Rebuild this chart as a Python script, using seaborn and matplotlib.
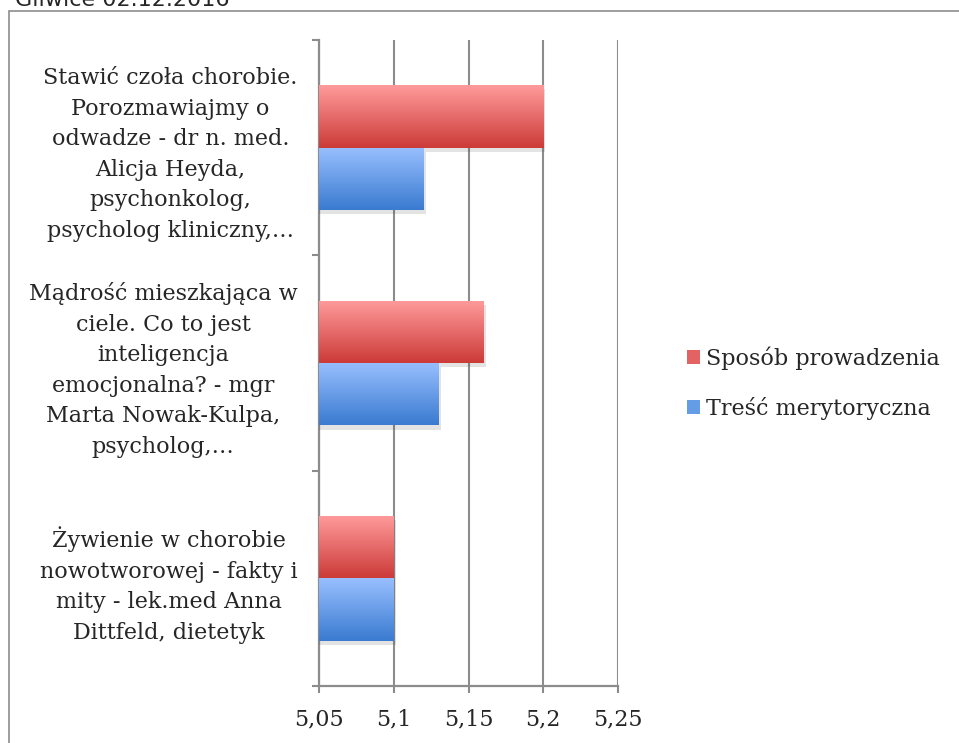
import numpy as np
import pandas as pd
import seaborn as sns
import matplotlib.pyplot as plt
import matplotlib.patheffects as pe
from matplotlib.colors import to_rgb
from matplotlib.patches import Patch, Rectangle

# chart data
categories = [
    "Stawić czoła chorobie.\nPorozmawiajmy o\nodwadze - dr n. med.\nAlicja Heyda,\npsychonkolog,\npsycholog kliniczny,…",
    "Mądrość mieszkająca w\nciele. Co to jest\ninteligencja\nemocjonalna? - mgr\nMarta Nowak-Kulpa,\npsycholog,…",
    "Żywienie w chorobie\nnowotworowej - fakty i\nmity - lek.med Anna\nDittfeld, dietetyk",
]
series = ["Sposób prowadzenia", "Treść merytoryczna"]
sposob = [5.20, 5.16, 5.10]
tresc = [5.12, 5.13, 5.10]
x_ticks = [5.05, 5.10, 5.15, 5.20, 5.25]
x_tick_labels = ["5,05", "5,1", "5,15", "5,2", "5,25"]

df = pd.DataFrame({
    "temat": categories * 2,
    "seria": [series[0]] * 3 + [series[1]] * 3,
    "ocena": sposob + tresc,
})

# gradient colours (top -> bottom) per series
grad = {
    series[0]: ("#ff9b9b", "#cc3b38"),
    series[1]: ("#98bfff", "#3a7bd0"),
}
mid = {series[0]: "#e36363", series[1]: "#659ce6"}

sns.set_style("white")
plt.rcParams["font.family"] = ["DejaVu Serif"]

fig = plt.figure(figsize=(9.59, 7.43), dpi=100)
ax = fig.add_axes([319 / 959, 57 / 743, 299 / 959, 646 / 743])

sns.barplot(data=df, y="temat", x="ocena", hue="seria", hue_order=series,
            order=categories, orient="h", width=0.58, palette=mid,
            legend=False, ax=ax, zorder=3)

x0, x1 = x_ticks[0], x_ticks[-1]
ax.set_xlim(x0, x1)
ax.set_ylim(2.5, -0.5)

# gradient fill + soft shadow for each bar
for container, name in zip(ax.containers, series):
    top, bot = grad[name]
    c_top = np.array(to_rgb(top))
    c_bot = np.array(to_rgb(bot))
    t = np.linspace(0, 1, 64)[:, None]
    img = (c_top * (1 - t) + c_bot * t)[:, None, :]
    for bar in container:
        bar.set_edgecolor("none")
        bar.set_path_effects([pe.SimplePatchShadow(offset=(1.5, -3), alpha=0.15, shadow_rgbFace="#444444"),
                              pe.Normal()])
        y = bar.get_y()
        h = bar.get_height()
        right = bar.get_x() + bar.get_width()
        im = ax.imshow(img, extent=(x0, right, y + h, y), aspect="auto",
                       origin="upper", zorder=4, interpolation="bilinear")
        im.set_clip_path(bar)

ax.set_xlim(x0, x1)
ax.set_ylim(2.5, -0.5)

# grid and spines
ax.set_xticks(x_ticks)
ax.set_xticklabels(x_tick_labels, fontsize=16)
ax.xaxis.grid(True, color="#8c8c8c", linewidth=1.5, zorder=1)
ax.set_axisbelow(True)
for side in ["top", "right"]:
    ax.spines[side].set_visible(False)
for side in ["left", "bottom"]:
    ax.spines[side].set_color("#8c8c8c")
    ax.spines[side].set_linewidth(1.6)
ax.tick_params(axis="x", bottom=True, length=5, width=1.5, color="#8c8c8c", pad=11)
ax.set_yticks([0, 1, 2])
ax.set_yticklabels(categories, fontsize=16, multialignment="center", linespacing=1.5)
ax.set_yticks([-0.5, 0.5, 1.5, 2.5], minor=True)
ax.tick_params(axis="y", which="major", left=False, pad=12)
ax.tick_params(axis="y", which="minor", left=True, length=5, width=1.5, color="#8c8c8c")
ax.set_xlabel("")
ax.set_ylabel("")

handles = [Patch(facecolor=mid[s], edgecolor="none") for s in series]
fig.legend(handles, series, loc="center left", bbox_to_anchor=(667 / 959, 1 - 383 / 743),
           frameon=False, handlelength=0.6, handleheight=0.6,
           handletextpad=0.25, labelspacing=1.2, prop={"family": "DejaVu Serif", "size": 16})

# outer frame of the chart box, running off the right and bottom edges
fig.patches.append(Rectangle((9 / 959, -0.05), 1.2, 1 - 11 / 743 + 0.05, transform=fig.transFigure,
                             fill=False, edgecolor="#8c8c8c", linewidth=1.2))
fig.text(15 / 959, 1 - 6 / 743, "Gliwice 02.12.2016", fontsize=16, family="DejaVu Sans",
         va="baseline", ha="left")

fig.savefig("out.png", dpi=100)
